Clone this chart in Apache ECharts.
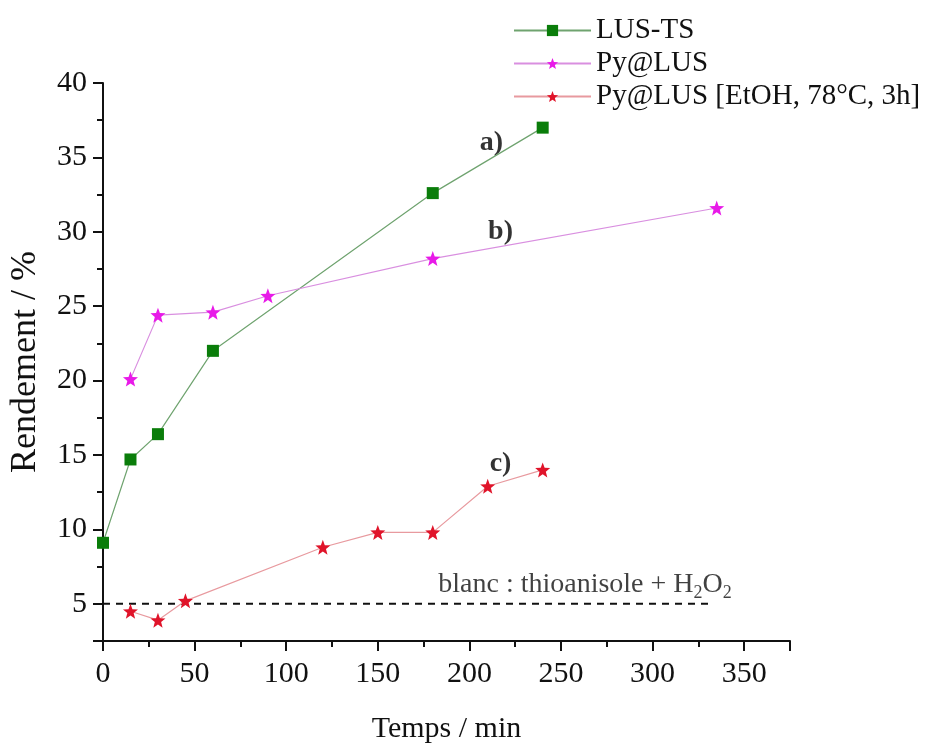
<!DOCTYPE html>
<html>
<head>
<meta charset="utf-8">
<script src="https://cdn.jsdelivr.net/npm/echarts@6/dist/echarts.min.js"></script>
<style>
html,body{margin:0;padding:0;background:#fff;}
#chart{width:926px;height:749px;}
</style>
</head>
<body>
<div id="chart"></div>
<script>
// ---- data ----
const lusTsTime = [0, 15, 30, 60, 180, 240];
const lusTsYield = [9.1, 14.7, 16.4, 22.0, 32.6, 37.0];
const pyLusTime = [15, 30, 60, 90, 180, 335];
const pyLusYield = [20.1, 24.4, 24.6, 25.7, 28.2, 31.6];
const pyEtohTime = [15, 30, 45, 120, 150, 180, 210, 240];
const pyEtohYield = [4.5, 3.9, 5.2, 8.8, 9.8, 9.8, 12.9, 14.0];
const blankTime = [0, 332];
const blankYield = [5, 5];
const seriesNames = ['LUS-TS', 'Py@LUS', 'Py@LUS [EtOH, 78°C, 3h]'];
const annotLabels = ['a)', 'b)', 'c)'];
const annotTime = [212, 217, 217];
const annotYield = [36.0, 30.0, 14.4];
const blankLabelPos = [183, 6.3];
const xTickLabels = [0, 50, 100, 150, 200, 250, 300, 350];
const yTickLabels = [5, 10, 15, 20, 25, 30, 35, 40];

// star symbol path (shape only)
function starPath() {
  let pts = [];
  for (let i = 0; i < 10; i++) {
    const r = i % 2 === 0 ? 50 : 21;
    const a = -Math.PI / 2 + i * Math.PI / 5;
    pts.push((50 + r * Math.cos(a)).toFixed(2) + ' ' + (50 + r * Math.sin(a)).toFixed(2));
  }
  return 'path://M' + pts.join(' L') + ' Z';
}
const STAR = starPath();
const FONT = '"Liberation Serif", "Times New Roman", serif';

function pairs(xs, ys) { return xs.map((x, i) => [x, ys[i]]); }

const chart = echarts.init(document.getElementById('chart'), null, {renderer: 'canvas'});
const option = {
  backgroundColor: '#ffffff',
  animation: false,
  textStyle: {fontFamily: FONT},
  grid: {left: 102, top: 83, right: 136, bottom: 105, containLabel: false},
  legend: {
    orient: 'vertical',
    left: 508,
    top: 11,
    itemWidth: 77,
    itemHeight: 14,
    itemGap: 4,
    data: seriesNames,
    textStyle: {fontFamily: FONT, fontSize: 29, color: '#111'}
  },
  xAxis: {
    type: 'value',
    min: 0, max: 375, interval: 50,
    name: 'Temps / min',
    nameLocation: 'middle',
    nameGap: 73,
    nameTextStyle: {fontFamily: FONT, fontSize: 30, color: '#111'},
    axisLine: {lineStyle: {color: '#111', width: 2}},
    axisTick: {inside: false, length: 10, lineStyle: {color: '#111', width: 2}},
    minorTick: {show: true, splitNumber: 2, length: 6, lineStyle: {color: '#111', width: 2}},
    splitLine: {show: false},
    axisLabel: {
      margin: 18, fontFamily: FONT, fontSize: 30, color: '#111',
      formatter: v => (xTickLabels.indexOf(v) >= 0 ? String(v) : '')
    }
  },
  yAxis: {
    type: 'value',
    min: 2.5, max: 40, splitNumber: 8,
    name: 'Rendement / %',
    nameLocation: 'middle',
    nameGap: 59,
    nameTextStyle: {fontFamily: FONT, fontSize: 36, color: '#111'},
    axisLine: {lineStyle: {color: '#111', width: 2}},
    axisTick: {inside: false, length: 10, lineStyle: {color: '#111', width: 2}},
    minorTick: {show: true, splitNumber: 2, length: 6, lineStyle: {color: '#111', width: 2}},
    splitLine: {show: false},
    axisLabel: {
      margin: 16, fontFamily: FONT, fontSize: 30, color: '#111',
      formatter: v => (yTickLabels.indexOf(v) >= 0 ? String(v) : '')
    }
  },
  series: [
    {
      name: seriesNames[0], type: 'line',
      data: pairs(lusTsTime, lusTsYield),
      symbol: 'rect', symbolSize: 12,
      itemStyle: {color: '#0a7d0a'},
      lineStyle: {color: '#6fa36f', width: 1.2},
      z: 3
    },
    {
      name: seriesNames[1], type: 'line',
      data: pairs(pyLusTime, pyLusYield),
      symbol: STAR, symbolSize: 15,
      itemStyle: {color: '#e81ae8'},
      lineStyle: {color: '#d98fe0', width: 1.2},
      z: 3
    },
    {
      name: seriesNames[2], type: 'line',
      data: pairs(pyEtohTime, pyEtohYield),
      symbol: STAR, symbolSize: 15,
      itemStyle: {color: '#e0142a'},
      lineStyle: {color: '#e89a9f', width: 1.2},
      z: 3
    },
    {
      name: 'blanc', type: 'line',
      data: pairs(blankTime, blankYield),
      symbol: 'none',
      lineStyle: {color: '#111', width: 2, type: [7, 6]},
      silent: true, z: 2
    },
    {
      name: 'annotations', type: 'scatter',
      data: annotLabels.map((t, i) => ({value: [annotTime[i], annotYield[i]], label: {formatter: t}})),
      symbolSize: 0,
      silent: true,
      label: {
        show: true, position: 'inside',
        fontFamily: FONT, fontSize: 28, fontWeight: 'bold', color: '#000'
      }
    },
    {
      name: 'blancLabel', type: 'scatter',
      data: [{value: blankLabelPos}],
      symbolSize: 0,
      silent: true,
      label: {
        show: true, position: 'right', distance: 0,
        formatter: '{a|blanc : thioanisole + H}{s|2}{a|O}{s|2}',
        rich: {
          a: {fontFamily: FONT, fontSize: 28, color: '#111'},
          s: {fontFamily: FONT, fontSize: 18, color: '#111', padding: [17, 0, 0, 0]}
        }
      }
    }
  ]
};
chart.setOption(option);
</script>
</body>
</html>
